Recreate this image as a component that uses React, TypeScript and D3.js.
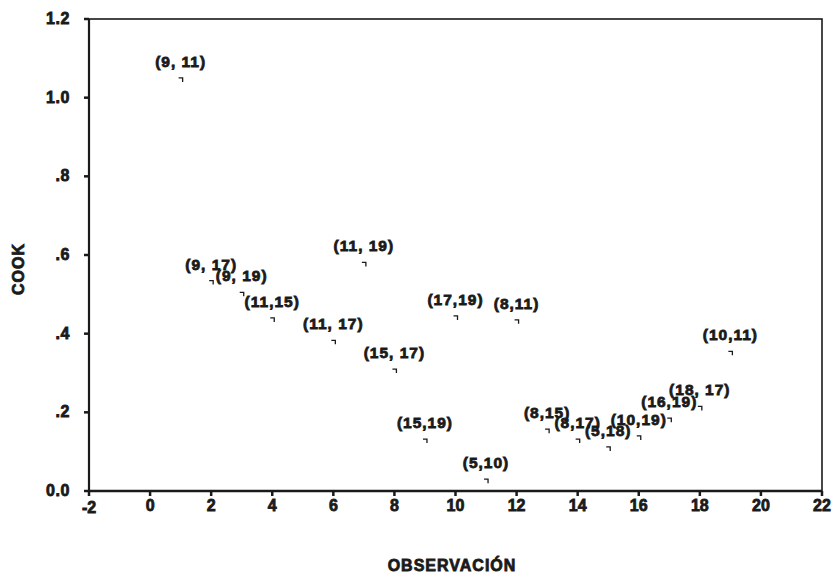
import React from "react";
import * as d3 from "d3";

const obs = [1, 2, 3, 4, 6, 7, 8, 10, 12, 9, 11, 13, 14, 15, 16, 17, 18, 19];
const cook = [1.045, 0.53, 0.5, 0.435, 0.378, 0.576, 0.305, 0.44, 0.43, 0.127, 0.025, 0.152, 0.127, 0.107, 0.135, 0.18, 0.21, 0.35];
const pairLabels = [
  "(9, 11)", "(9, 17)", "(9, 19)", "(11,15)", "(11, 17)", "(11, 19)", "(15, 17)",
  "(17,19)", "(8,11)", "(15,19)", "(5,10)", "(8,15)", "(8,17)", "(5,18)",
  "(10,19)", "(16,19)", "(18, 17)", "(10,11)",
];
const xTicks = [-2, 0, 2, 4, 6, 8, 10, 12, 14, 16, 18, 20, 22];
const yTicks = [0, 0.2, 0.4, 0.6, 0.8, 1.0, 1.2];
const yTickLabels = ["0.0", ".2", ".4", ".6", ".8", "1.0", "1.2"];

export default function App() {
  const W = 839, H = 584;
  const left = 89, right = 822, top = 19, bottom = 491;
  const x = d3.scaleLinear().domain([-2, 22]).range([left, right]);
  const y = d3.scaleLinear().domain([0, 1.2]).range([bottom, top]);
  const font = "'Liberation Sans', Arial, sans-serif";
  const ink = "#1a1a1a";
  const heavy = { stroke: ink, strokeWidth: 0.8 };
  return (
    <svg width={W} height={H} style={{ position: "absolute", left: 0, top: 0, background: "#fff" }}
      fontFamily={font} fontWeight="bold">
      <rect x={left} y={top} width={right - left} height={bottom - top} fill="none" stroke={ink} strokeWidth={1.6} />
      <line x1={left} x2={right} y1={bottom} y2={bottom} stroke={ink} strokeWidth={2.4} />
      <line x1={left} x2={left} y1={top} y2={bottom} stroke={ink} strokeWidth={2.2} />
      {yTicks.map((t, i) => (
        <g key={"y" + i}>
          <line x1={left - 5} x2={left} y1={y(t)} y2={y(t)} stroke={ink} strokeWidth={2.5} />
          <text x={left - 19} y={y(t) + 5} textAnchor="end" fontSize={16} letterSpacing={0.6} fill={ink} {...heavy}>{yTickLabels[i]}</text>
        </g>
      ))}
      {xTicks.map((t, i) => (
        <g key={"x" + i}>
          <line x1={x(t)} x2={x(t)} y1={bottom} y2={bottom + 5} stroke={ink} strokeWidth={2.5} />
          <text x={x(t)} y={bottom + (t === -2 ? 22 : 20)} textAnchor="middle" fontSize={16} fill={ink} {...heavy}>{t}</text>
        </g>
      ))}
      <text x={452} y={571} textAnchor="middle" fontSize={16} letterSpacing={1} fill={ink} {...heavy}>OBSERVACIÓN</text>
      <text transform={`translate(24,${y(0.6) + 14}) rotate(-90)`} textAnchor="middle" fontSize={16} letterSpacing={1} fill={ink} {...heavy}>COOK</text>
      {obs.map((o, i) => (
        <g key={"p" + i}>
          <path d={`M${x(o) - 2},${y(cook[i]) - 2}h4v4`} fill="none" stroke={ink} strokeWidth={1.3} />
          <text x={x(o)} y={y(cook[i]) - 13} textAnchor="middle" fontSize={15.5} letterSpacing={1} fill={ink} {...heavy}>{pairLabels[i]}</text>
        </g>
      ))}
    </svg>
  );
}
